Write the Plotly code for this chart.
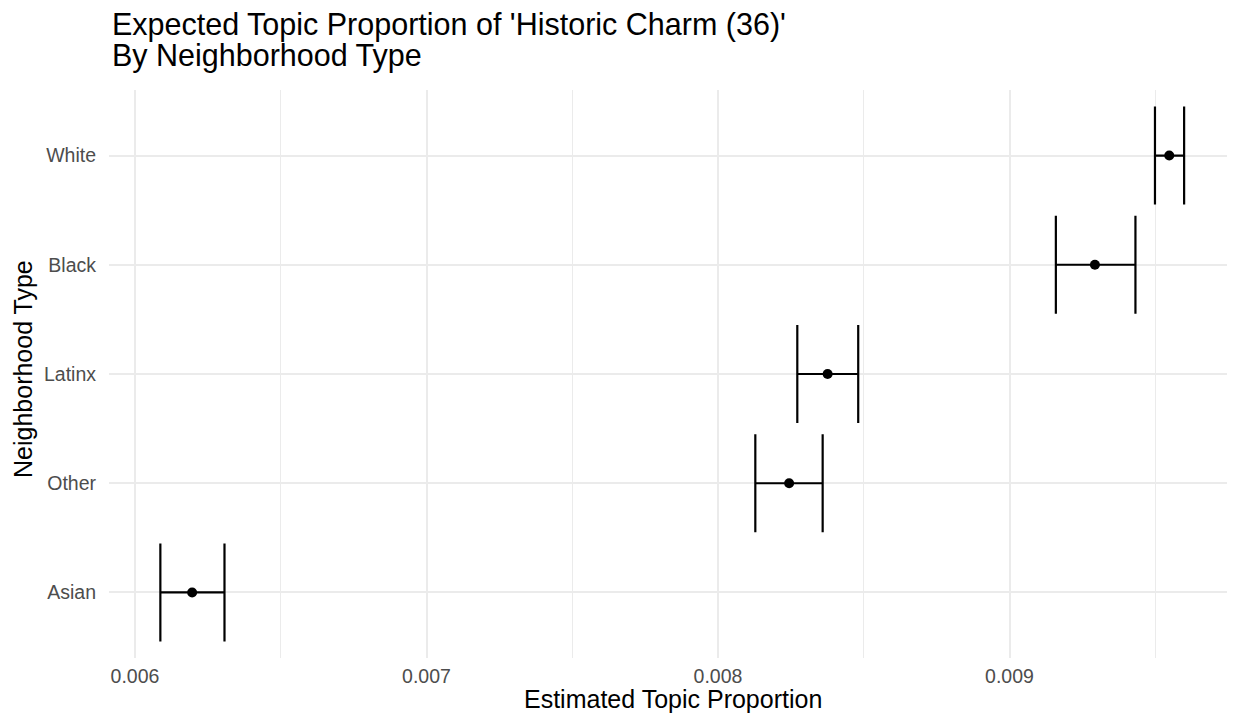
import plotly.graph_objects as go

categories = ["Asian", "Other", "Latinx", "Black", "White"]
estimate = [0.006196, 0.008244, 0.008376, 0.009293, 0.009548]
lower = [0.006087, 0.008128, 0.008272, 0.009159, 0.009499]
upper = [0.006307, 0.008359, 0.008481, 0.009432, 0.009599]
x_ticks = [0.006, 0.007, 0.008, 0.009]
x_tick_labels = ["0.006", "0.007", "0.008", "0.009"]

err_plus = [u - e for u, e in zip(upper, estimate)]
err_minus = [e - l for e, l in zip(estimate, lower)]

FONT = "Liberation Sans, Arial, sans-serif"

fig = go.Figure()
fig.add_trace(go.Scatter(
    x=estimate, y=categories, mode="markers",
    marker=dict(color="black", size=10),
    error_x=dict(type="data", symmetric=False, array=err_plus, arrayminus=err_minus,
                 color="black", thickness=2.2, width=49),
    showlegend=False, hoverinfo="skip",
))

W, H = 1233, 719
pl, pr, pt, pb = 109, 6, 90, 61
pw, ph = W - pl - pr, H - pt - pb

fig.update_layout(
    width=W, height=H,
    margin=dict(l=pl, r=pr, t=pt, b=pb),
    plot_bgcolor="white", paper_bgcolor="white",
    font=dict(family=FONT),
    xaxis=dict(
        range=[0.0059108, 0.0097461],
        tickvals=x_ticks, ticktext=x_tick_labels,
        showgrid=True, gridcolor="#EBEBEB", gridwidth=2,
        minor=dict(dtick=0.0005, tick0=0.0055, showgrid=True, gridcolor="#EBEBEB", gridwidth=1),
        zeroline=False, showline=False, ticks="",
        tickfont=dict(size=19.5, color="#4D4D4D", family=FONT),
        ticklabelstandoff=4,
    ),
    yaxis=dict(
        categoryorder="array", categoryarray=categories,
        range=[-0.6, 4.6],
        showgrid=True, gridcolor="#EBEBEB", gridwidth=2,
        zeroline=False, showline=False, ticks="",
        tickfont=dict(size=19.5, color="#4D4D4D", family=FONT),
        ticklabelstandoff=12,
    ),
)

def px(xp):
    return (xp - pl) / pw
def py(yp):
    return (H - pb - yp) / ph

fig.add_annotation(text="Expected Topic Proportion of 'Historic Charm (36)'",
                   x=px(110), y=py(37), xref="paper", yref="paper",
                   xanchor="left", yanchor="bottom", showarrow=False,
                   font=dict(size=30.5, color="black", family=FONT), yshift=-7)
fig.add_annotation(text="By Neighborhood Type",
                   x=px(110), y=py(68), xref="paper", yref="paper",
                   xanchor="left", yanchor="bottom", showarrow=False,
                   font=dict(size=30.5, color="black", family=FONT), yshift=-7)
fig.add_annotation(text="Estimated Topic Proportion",
                   x=px(673), y=py(699), xref="paper", yref="paper",
                   xanchor="center", yanchor="middle", showarrow=False,
                   font=dict(size=25, color="black", family=FONT))
fig.add_annotation(text="Neighborhood Type",
                   x=px(23), y=py(369), xref="paper", yref="paper",
                   xanchor="center", yanchor="middle", showarrow=False, textangle=-90,
                   font=dict(size=25, color="black", family=FONT))

fig.write_html("out.html")
